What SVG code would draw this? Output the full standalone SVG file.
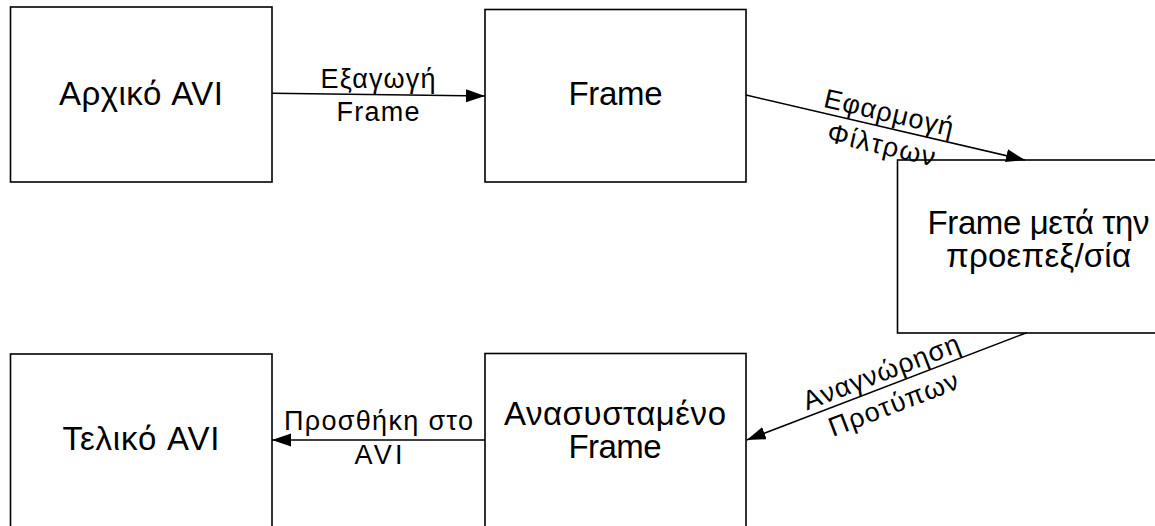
<svg xmlns="http://www.w3.org/2000/svg" width="1155" height="526" viewBox="0 0 1155 526">
  <style>
    .box { fill: #ffffff; stroke: #000000; stroke-width: 1.6; }
    .node-text { font-family: "Liberation Sans", Arial, sans-serif; font-size: 33px; fill: #000000; text-anchor: middle; }
    .edge-text { font-family: "Liberation Sans", Arial, sans-serif; font-size: 27px; fill: #000000; text-anchor: middle; }
    .edge { fill: none; stroke: #000000; stroke-width: 1.5; marker-end: url(#arrow); }
  </style>
  <defs>
    <marker id="arrow" markerUnits="userSpaceOnUse" markerWidth="20" markerHeight="14" refX="19" refY="6.5" orient="auto">
      <path d="M0,0 L19,6.5 L0,13 Z" fill="#000000"/>
    </marker>
  </defs>
  <rect width="1155" height="526" fill="#ffffff"/>

  <!-- processing steps -->
  <g id="node-original-avi">
    <rect class="box" x="10.5" y="7" width="261.5" height="175"/>
    <text class="node-text" x="141" y="105" textLength="164" lengthAdjust="spacing">Αρχικό AVI</text>
  </g>
  <g id="node-frame">
    <rect class="box" x="485" y="9.5" width="261" height="172.5"/>
    <text class="node-text" x="615.5" y="104.5" textLength="94" lengthAdjust="spacing">Frame</text>
  </g>
  <g id="node-preprocessed">
    <rect class="box" x="897.5" y="160" width="280" height="173"/>
    <text class="node-text" x="1038.5" y="234" textLength="222" lengthAdjust="spacing">Frame μετά την</text>
    <text class="node-text" x="1038.5" y="267" textLength="185" lengthAdjust="spacing">προεπεξ/σία</text>
  </g>
  <g id="node-reconstructed">
    <rect class="box" x="485" y="353.5" width="261" height="200"/>
    <text class="node-text" x="615" y="425" textLength="222" lengthAdjust="spacing">Ανασυσταμένο</text>
    <text class="node-text" x="615" y="458" textLength="93" lengthAdjust="spacing">Frame</text>
  </g>
  <g id="node-final-avi">
    <rect class="box" x="10.5" y="354" width="261.5" height="200"/>
    <text class="node-text" x="141" y="450" textLength="157" lengthAdjust="spacing">Τελικό AVI</text>
  </g>

  <!-- connectors with their labels -->
  <g id="connectors">
    <line class="edge" x1="272" y1="93.3" x2="485" y2="96"/>
    <text class="edge-text" x="378" y="87.5" textLength="115" lengthAdjust="spacing">Εξαγωγή</text>
    <text class="edge-text" x="378" y="121" textLength="83" lengthAdjust="spacing">Frame</text>

    <line class="edge" x1="746" y1="95" x2="1025" y2="160"/>
    <g transform="translate(885.5,127.5) rotate(13.1)">
      <text class="edge-text" x="0" y="-6" textLength="132" lengthAdjust="spacing">Εφαρμογή</text>
      <text class="edge-text" x="0" y="27" textLength="110" lengthAdjust="spacing">Φίλτρων</text>
    </g>

    <line class="edge" x1="1026.7" y1="332.7" x2="746.7" y2="440"/>
    <g transform="translate(886.7,386.3) rotate(-20.97)">
      <text class="edge-text" x="0" y="-6" textLength="166" lengthAdjust="spacing">Αναγνώρηση</text>
      <text class="edge-text" x="0" y="28" textLength="137" lengthAdjust="spacing">Προτύπων</text>
    </g>

    <line class="edge" x1="485" y1="440" x2="272" y2="440"/>
    <text class="edge-text" x="378.5" y="430" textLength="189" lengthAdjust="spacing">Προσθήκη στο</text>
    <text class="edge-text" x="378.5" y="464" textLength="48" lengthAdjust="spacing">AVI</text>
  </g>
</svg>
